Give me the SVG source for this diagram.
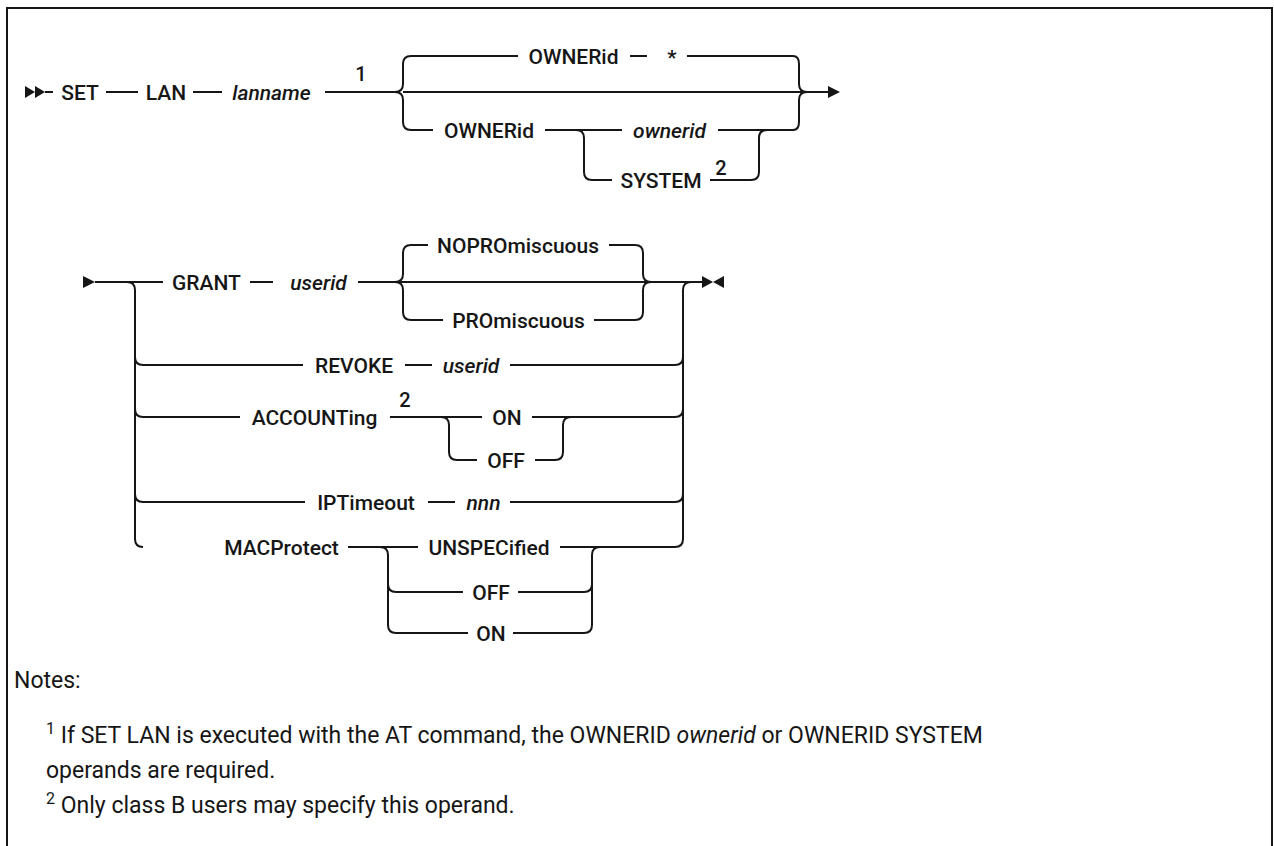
<svg xmlns="http://www.w3.org/2000/svg" width="1274" height="846" viewBox="0 0 1274 846">
<style>
.ln{fill:none;stroke:#161616;stroke-width:2}
.ah{fill:#161616;stroke:none}
.t{font-family:Roboto,"Liberation Sans",sans-serif;font-size:21px;font-weight:500;fill:#161616;text-anchor:middle}
.v{font-style:italic}
.sup{font-family:Roboto,"Liberation Sans",sans-serif;font-size:20px;font-weight:500;fill:#161616;text-anchor:middle}
.n{font-family:Roboto,"Liberation Sans",sans-serif;font-size:23px;font-weight:400;fill:#161616}
.ns{font-size:16px}
</style>
<rect width="1274" height="846" fill="#fff"/>
<path d="M7,846 V8 H1272 V846" fill="none" stroke="#161616" stroke-width="2"/>

<g id="connectors">
  <polygon class="ah" points="25,86 35,92 25,98"/>
  <polygon class="ah" points="35,86 45,92 35,98"/>
  <path class="ln" d="M45,92 H53 M106,92 H138 M193,92 H222 M325,92 H395"/>
  <path class="ln" d="M395,92 Q403,92 403,84 V64 Q403,56 411,56 H518 M630,56 H647 M687,56 H793 Q799,56 799,64 V84 Q799,92 807,92 H830"/>
  <path class="ln" d="M395,92 Q403,92 403,100 V122 Q403,130 411,130 H433 M545,130 H622 M718,130 H793 Q799,130 799,122 V100 Q799,92 807,92"/>
  <path class="ln" d="M403,92 H807"/>
  <path class="ln" d="M576,130 Q584,130 584,138 V172 Q584,180 592,180 H612 M710,180 H751 Q759,180 759,172 V138 Q759,130 767,130"/>
  <polygon class="ah" points="828,86 840,92 828,98"/>

  <polygon class="ah" points="83,276 95,282 83,288"/>
  <path class="ln" d="M95,282 H163 M250,282 H273 M358,282 H702"/>
  <path class="ln" d="M127,282 Q135,282 135,290 V539 Q135,547 143,547"/>
  <path class="ln" d="M395,282 Q403,282 403,274 V253 Q403,245 411,245 H428 M609,245 H635 Q643,245 643,253 V274 Q643,282 651,282"/>
  <path class="ln" d="M395,282 Q403,282 403,290 V312 Q403,320 411,320 H443 M594,320 H635 Q643,320 643,312 V290 Q643,282 651,282"/>
  <path class="ln" d="M691,282 Q683,282 683,290 V539"/>
  <polygon class="ah" points="702,276 713,282 702,288"/>
  <polygon class="ah" points="724,276 713,282 724,288"/>

  <path class="ln" d="M135,357 Q135,365 143,365 H303 M405,365 H432 M510,365 H675 Q683,365 683,357"/>
  <path class="ln" d="M135,409 Q135,417 143,417 H240 M390,417 H482 M532,417 H675 Q683,417 683,409"/>
  <path class="ln" d="M441,417 Q449,417 449,425 V452 Q449,460 457,460 H477 M535,460 H555 Q563,460 563,452 V425 Q563,417 571,417"/>
  <path class="ln" d="M135,494 Q135,502 143,502 H305 M428,502 H455 M510,502 H675 Q683,502 683,494"/>
  <path class="ln" d="M348,547 H418 M560,547 H675 Q683,547 683,539"/>
  <path class="ln" d="M380,547 Q388,547 388,555 V625 Q388,633 396,633 H468 M388,584 Q388,592 396,592 H463"/>
  <path class="ln" d="M518,592 H584 Q592,592 592,584 M513,633 H584 Q592,633 592,625 V555 Q592,547 600,547"/>
</g>

<g id="SET"><text class="t" x="80" y="99.5">SET</text></g>
<g id="LAN"><text class="t" x="166" y="99.5">LAN</text></g>
<g id="lanname"><text class="t v" x="271.5" y="99.5">lanname</text><text class="sup" x="361" y="81">1</text></g>
<g id="ownerid-default"><text class="t" x="573.5" y="63.5">OWNERid</text><text class="t" x="672" y="65">*</text></g>
<g id="ownerid-kw"><text class="t" x="489" y="137.5">OWNERid</text></g>
<g id="ownerid-var"><text class="t v" x="669.5" y="137.5">ownerid</text></g>
<g id="system"><text class="t" x="661" y="187.5">SYSTEM</text><text class="sup" x="721" y="175">2</text></g>

<g id="GRANT"><text class="t" x="206.5" y="289.5">GRANT</text><text class="t v" x="318.5" y="289.5">userid</text></g>
<g id="NOPROmiscuous"><text class="t" x="518" y="252.5">NOPROmiscuous</text></g>
<g id="PROmiscuous"><text class="t" x="518.5" y="327.5">PROmiscuous</text></g>
<g id="REVOKE"><text class="t" x="354" y="372.5">REVOKE</text><text class="t v" x="471" y="372.5">userid</text></g>
<g id="ACCOUNTing"><text class="t" x="314.5" y="424.5">ACCOUNTing</text><text class="sup" x="405" y="407">2</text></g>
<g id="acc-on"><text class="t" x="507" y="424.5">ON</text></g>
<g id="acc-off"><text class="t" x="506" y="467.5">OFF</text></g>
<g id="IPTimeout"><text class="t" x="366" y="509.5">IPTimeout</text><text class="t v" x="483.5" y="509.5">nnn</text></g>
<g id="MACProtect"><text class="t" x="281.5" y="554.5">MACProtect</text></g>
<g id="unspec"><text class="t" x="489" y="554.5">UNSPECified</text></g>
<g id="mac-off"><text class="t" x="491" y="599.5">OFF</text></g>
<g id="mac-on"><text class="t" x="491" y="640.5">ON</text></g>

<g id="notes">
  <text class="n" x="14" y="688">Notes:</text>
  <text class="n" x="46" y="743"><tspan class="ns" dy="-9">1</tspan><tspan dy="9"> If SET LAN is executed with the AT command, the OWNERID </tspan><tspan font-style="italic">ownerid</tspan><tspan> or OWNERID SYSTEM</tspan></text>
  <text class="n" x="46" y="778">operands are required.</text>
  <text class="n" x="46" y="813"><tspan class="ns" dy="-9">2</tspan><tspan dy="9"> Only class B users may specify this operand.</tspan></text>
</g>
</svg>
